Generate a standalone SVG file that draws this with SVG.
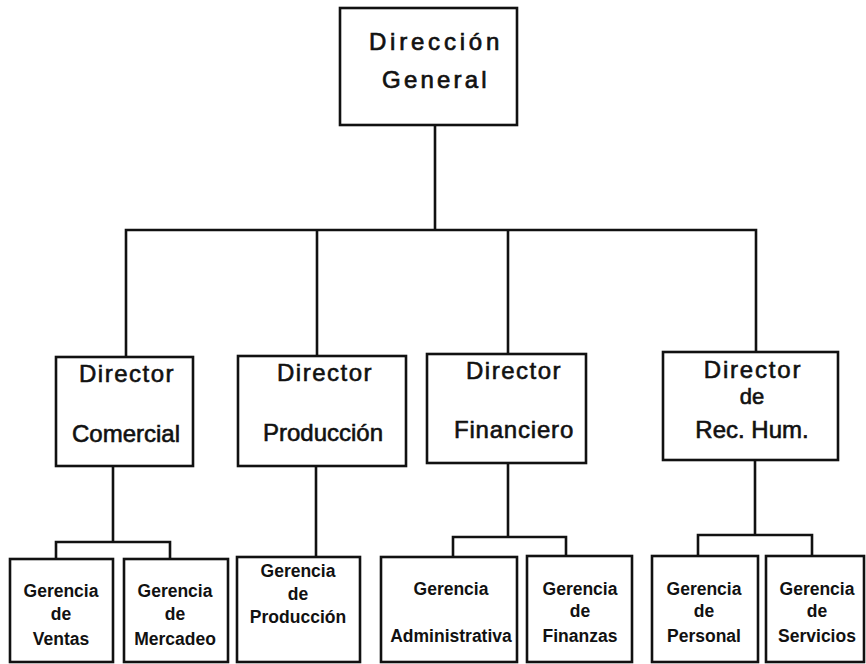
<svg xmlns="http://www.w3.org/2000/svg" width="866" height="664" viewBox="0 0 866 664">
  <style>
    .box { fill: #fff; stroke: #111; stroke-width: 2.6; }
    .wire { fill: none; stroke: #111; stroke-width: 2.6; stroke-linejoin: miter; stroke-linecap: square; }
    .t1 { font-family: "Liberation Sans", Arial, sans-serif; font-size: 24px; fill: #111; stroke: #111; stroke-width: 0.7; text-anchor: middle; }
    .t2 { font-family: "Liberation Sans", Arial, sans-serif; font-size: 24px; fill: #111; stroke: #111; stroke-width: 0.6; text-anchor: middle; }
    .t2s { font-size: 22px; }
    .t3 { font-family: "Liberation Sans", Arial, sans-serif; font-size: 17.5px; font-weight: bold; fill: #111; text-anchor: middle; }
  </style>

  <rect width="866" height="664" fill="#fff"/>

  <!-- connectors -->
  <g id="connectors">
    <path class="wire" d="M435 125 V230 M126 230 H756 M126 230 V357 M317 230 V356 M508 230 V354 M756 230 V352"/>
    <path class="wire" d="M113 466 V542 M56 542 H170 M56 542 V559 M170 542 V559"/>
    <path class="wire" d="M316 466 V557"/>
    <path class="wire" d="M508 463 V537 M453 537 H566 M453 537 V557 M566 537 V556"/>
    <path class="wire" d="M755 460 V535 M698 535 H812 M698 535 V556 M812 535 V556"/>
  </g>

  <!-- top -->
  <g id="direccion-general">
    <rect class="box" x="340" y="8" width="177" height="117"/>
    <text class="t1" x="436" y="50" letter-spacing="3.8">Dirección</text>
    <text class="t1" x="436" y="88" letter-spacing="3.2">General</text>
  </g>

  <!-- directors -->
  <g id="director-comercial">
    <rect class="box" x="56" y="357" width="137" height="109"/>
    <text class="t2" x="127" y="382" letter-spacing="1.5">Director</text>
    <text class="t2" x="126" y="442">Comercial</text>
  </g>
  <g id="director-produccion">
    <rect class="box" x="238" y="356" width="168" height="110"/>
    <text class="t2" x="325" y="381" letter-spacing="1.5">Director</text>
    <text class="t2" x="323" y="441">Producción</text>
  </g>
  <g id="director-financiero">
    <rect class="box" x="427" y="354" width="159" height="109"/>
    <text class="t2" x="514" y="379" letter-spacing="1.5">Director</text>
    <text class="t2" x="514" y="438" letter-spacing="0.8">Financiero</text>
  </g>
  <g id="director-rrhh">
    <rect class="box" x="663" y="352" width="175" height="108"/>
    <text class="t2" x="753" y="378" letter-spacing="1.8">Director</text>
    <text class="t2 t2s" x="752" y="404">de</text>
    <text class="t2" x="752" y="438">Rec. Hum.</text>
  </g>

  <!-- managers -->
  <g id="gerencia-ventas">
    <rect class="box" x="10" y="559" width="103" height="103"/>
    <text class="t3" x="61" y="597">Gerencia</text>
    <text class="t3" x="61" y="620">de</text>
    <text class="t3" x="61" y="645">Ventas</text>
  </g>
  <g id="gerencia-mercadeo">
    <rect class="box" x="124" y="559" width="104" height="103"/>
    <text class="t3" x="175" y="597">Gerencia</text>
    <text class="t3" x="175" y="620">de</text>
    <text class="t3" x="175" y="645">Mercadeo</text>
  </g>
  <g id="gerencia-produccion">
    <rect class="box" x="237" y="557" width="123" height="105"/>
    <text class="t3" x="298" y="577">Gerencia</text>
    <text class="t3" x="298" y="600">de</text>
    <text class="t3" x="298" y="623">Producción</text>
  </g>
  <g id="gerencia-administrativa">
    <rect class="box" x="381" y="557" width="136" height="105"/>
    <text class="t3" x="451" y="595">Gerencia</text>
    <text class="t3" x="451" y="642">Administrativa</text>
  </g>
  <g id="gerencia-finanzas">
    <rect class="box" x="527" y="556" width="105" height="106"/>
    <text class="t3" x="580" y="595">Gerencia</text>
    <text class="t3" x="580" y="617">de</text>
    <text class="t3" x="580" y="642">Finanzas</text>
  </g>
  <g id="gerencia-personal">
    <rect class="box" x="652" y="556" width="106" height="106"/>
    <text class="t3" x="704" y="595">Gerencia</text>
    <text class="t3" x="704" y="617">de</text>
    <text class="t3" x="704" y="642">Personal</text>
  </g>
  <g id="gerencia-servicios">
    <rect class="box" x="766" y="556" width="98" height="106"/>
    <text class="t3" x="817" y="595">Gerencia</text>
    <text class="t3" x="817" y="617">de</text>
    <text class="t3" x="817" y="642">Servicios</text>
  </g>
</svg>
